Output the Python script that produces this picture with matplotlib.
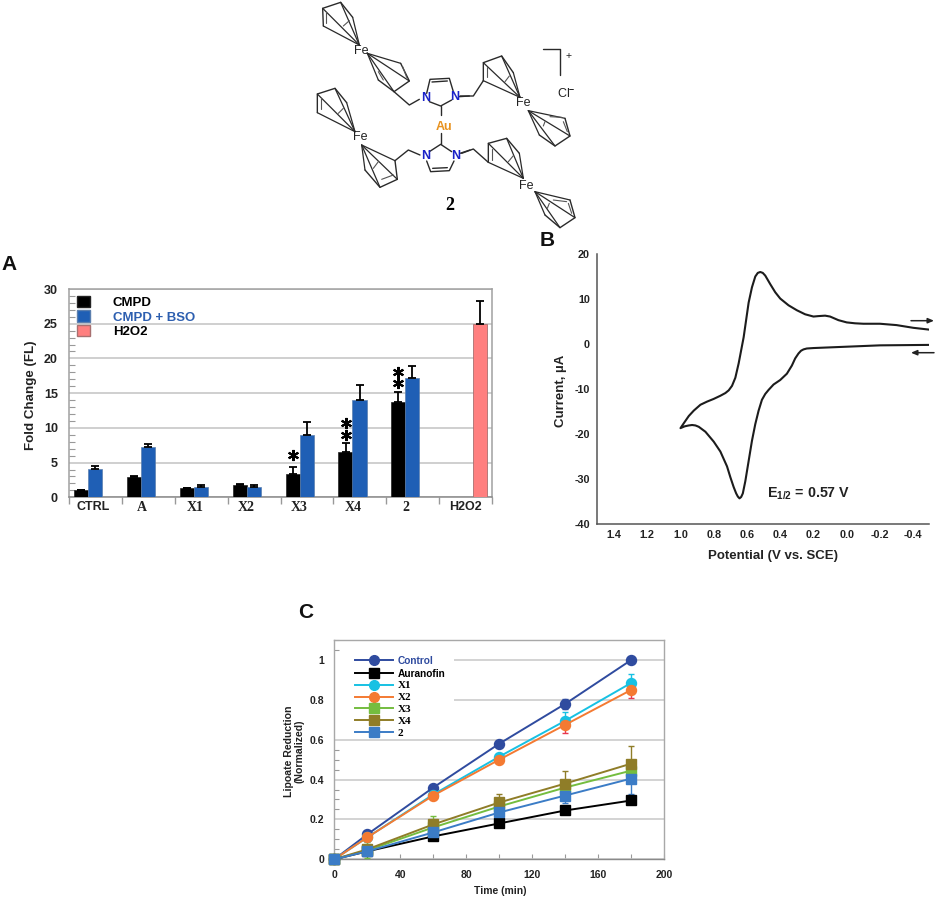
import matplotlib
matplotlib.use('Agg')
import matplotlib.pyplot as plt
from matplotlib.lines import Line2D
from matplotlib.patches import Patch, Rectangle

W, H = 941, 899
SANS = 'Liberation Sans'
SERIF = 'Liberation Serif'
plt.rcParams['font.family'] = SANS
plt.rcParams['font.weight'] = 'bold'
plt.rcParams['axes.labelweight'] = 'bold'
plt.rcParams['axes.unicode_minus'] = False
plt.rcParams['mathtext.fontset'] = 'custom'
plt.rcParams['mathtext.bf'] = 'Liberation Sans:bold'
plt.rcParams['mathtext.rm'] = 'Liberation Sans:bold'

# panel A
categorias = ['CTRL', 'A', 'X1', 'X2', 'X3', 'X4', '2', 'H2O2']
cmpd = [1.0, 2.9, 1.3, 1.7, 3.4, 6.5, 13.7]
cmpd_err = [0.1, 0.15, 0.1, 0.2, 0.9, 1.3, 1.5]
cmpd_bso = [4.1, 7.2, 1.5, 1.5, 9.0, 14.0, 17.2]
cmpd_bso_err = [0.4, 0.5, 0.2, 0.2, 1.8, 2.2, 1.7]
h2o2 = [25.0]
h2o2_err = [3.2]
estrellas_x = [4.23, 5.23, 5.23, 6.23, 6.23]
estrellas_y = [6.1, 9.0, 10.75, 16.4, 18.1]

# panel B
cv_potencial = [-0.495, -0.4, -0.3, -0.2, -0.1, -0.05, 0.0, 0.05, 0.1, 0.13, 0.17, 0.2, 0.25, 0.3, 0.35,
                0.4, 0.43, 0.46, 0.49, 0.505, 0.52, 0.535, 0.55, 0.57, 0.59, 0.62, 0.65, 0.67, 0.69, 0.71, 0.73,
                0.76, 0.8, 0.84, 0.88, 0.92, 0.95, 0.98, 1.0, 0.975, 0.95, 0.93, 0.91, 0.89, 0.85, 0.8, 0.76,
                0.72, 0.7, 0.68, 0.665, 0.655, 0.645, 0.635, 0.625, 0.61, 0.59, 0.57, 0.55, 0.53, 0.51, 0.49, 0.47, 0.44,
                0.4, 0.36, 0.33, 0.31, 0.29, 0.275, 0.26, 0.24, 0.2, 0.0, -0.2, -0.495]
cv_corriente = [3.2, 3.6, 4.2, 4.5, 4.5, 4.6, 4.8, 5.3, 6.1, 6.3, 6.2, 6.1, 6.6, 7.5, 8.6,
                10.1, 11.5, 13.3, 15.2, 15.8, 16.0, 15.8, 15.0, 12.6, 9.2, 1.5, -4.3, -7.5, -9.3, -10.3, -10.9,
                -11.5, -12.2, -12.8, -13.5, -14.8, -16.0, -17.6, -18.7, -18.3, -18.1, -18.0, -18.1, -18.4, -19.5, -21.7, -23.9,
                -27.2, -29.6, -31.8, -33.2, -33.9, -34.3, -34.0, -33.2, -30.5, -26.0, -21.5, -17.8, -14.8, -12.4, -11.1, -10.2, -9.0,
                -8.0, -6.6, -4.8, -3.2, -2.1, -1.5, -1.2, -1.0, -0.9, -0.6, -0.3, -0.2]

# panel C
tiempo = [0, 20, 60, 100, 140, 180]
series_c = ['Control', 'Auranofin', 'X1', 'X2', 'X3', 'X4', '2']
control = [0, 0.125, 0.36, 0.58, 0.78, 1.0]
auranofin = [0, 0.04, 0.115, 0.18, 0.245, 0.295]
x1 = [0, 0.11, 0.325, 0.515, 0.695, 0.885]
x2 = [0, 0.11, 0.32, 0.50, 0.675, 0.85]
x3 = [0, 0.045, 0.16, 0.265, 0.36, 0.445]
x4 = [0, 0.05, 0.175, 0.285, 0.38, 0.48]
comp2 = [0, 0.04, 0.135, 0.235, 0.32, 0.405]
err_control = [0, 0.01, 0.01, 0.01, 0.025, 0]
err_auranofin = [0, 0, 0, 0.01, 0.01, 0.02]
err_x1 = [0, 0.03, 0.01, 0.015, 0.045, 0.045]
err_x2 = [0, 0.01, 0.01, 0.01, 0.04, 0.04]
err_x3 = [0, 0.04, 0.055, 0.01, 0.02, 0.02]
err_x4 = [0, 0.01, 0.02, 0.045, 0.065, 0.09]
err_comp2 = [0, 0.01, 0.01, 0.03, 0.04, 0.075]

fig = plt.figure(figsize=(W / 100, H / 100), dpi=100, facecolor='white')


def ejes(izq, arriba, der, abajo):
    return fig.add_axes([izq / W, 1 - abajo / H, (der - izq) / W, (abajo - arriba) / H])


# ---- A ----
ax = ejes(69, 289, 492, 497.3)
pos = list(range(7))
err_kw = dict(ecolor='black', elinewidth=1.3, capsize=2.6, capthick=1.3)
ax.bar([p + 0.23 for p in pos], cmpd, 0.267, color='black', edgecolor='#222222', linewidth=0.5,
       yerr=[[0] * 7, cmpd_err], error_kw=err_kw, zorder=3)
ax.bar([p + 0.495 for p in pos], cmpd_bso, 0.267, color='#1f5fb5', edgecolor='#5b7fae', linewidth=0.5,
       yerr=[[0] * 7, cmpd_bso_err], error_kw=err_kw, zorder=3)
ax.bar([7.77], h2o2, 0.267, color='#ff7f7f', edgecolor='#a87070', linewidth=0.6,
       yerr=[[0], h2o2_err], error_kw=err_kw, zorder=3)
ax.plot(estrellas_x, estrellas_y, linestyle='none', marker=(6, 2, 0), ms=8, mew=1.5, color='black', zorder=4)
ax.set_xlim(0, 8)
ax.set_ylim(0, 30)
ax.set_yticks(range(0, 31, 5))
ax.set_yticks(range(0, 31), minor=True)
ax.set_xticks(range(9))
ax.set_xticklabels([])
ax.set_xticks([0.46, 1.373, 2.38, 3.35, 4.36, 5.38, 6.37, 7.49], minor=True)
ax.set_xticklabels(categorias, minor=True, fontsize=9)
for t in ax.get_xticklabels(minor=True):
    if t.get_text() not in ('CTRL', 'H2O2'):
        t.set_family(SERIF)
        t.set_fontsize(10)
ax.tick_params(axis='y', which='major', direction='in', length=0, labelsize=9, pad=8, labelcolor='#222222')
ax.tick_params(axis='y', which='minor', direction='in', length=4.5, width=0.8, color='#999999')
ax.tick_params(axis='x', which='major', direction='out', length=5, width=1, color='#999999')
ax.tick_params(axis='x', which='minor', length=0, pad=3, labelcolor='#222222')
ax.grid(axis='y', which='major', color='#c2c2c2', linewidth=1.1, zorder=0)
ax.set_axisbelow(True)
for s in ax.spines.values():
    s.set_color('#a0a0a0')
    s.set_linewidth(1.1)
ax.spines['bottom'].set_color('#8a8a8a')
ax.set_ylabel('Fold Change (FL)', fontsize=9.6, color='#222222')
ax.yaxis.set_label_coords((31.5 - 69) / 423, (497.3 - 395) / 208.3)
ax.yaxis.label.set_va('center')
manos = [Patch(facecolor='black', edgecolor='#222222', label='CMPD'),
         Patch(facecolor='#1f5fb5', edgecolor='#5b7fae', label='CMPD + BSO'),
         Patch(facecolor='#ff7f7f', edgecolor='#a87070', label='H2O2')]
ley = ax.legend(handles=manos, loc='upper left', bbox_to_anchor=(0.01, 0.985), frameon=False, fontsize=9.5,
                handlelength=0.95, handleheight=0.95, handletextpad=1.75, labelspacing=0.08,
                borderaxespad=0, borderpad=0.3, labelcolor=['black', '#2d5fb0', 'black'])
ley.set_zorder(5)

# ---- B ----
bx = ejes(596.7, 254, 929, 524)
bx.plot(cv_potencial, cv_corriente, color='#1c1c1c', linewidth=1.5, solid_joinstyle='round')
bx.set_xlim(1.504, -0.495)
bx.set_ylim(-40, 20)
bx.set_yticks(range(-40, 21, 10))
bx.set_xticks([1.4, 1.2, 1.0, 0.8, 0.6, 0.4, 0.2, 0.0, -0.2, -0.4])
bx.set_xticklabels(['1.4', '1.2', '1.0', '0.8', '0.6', '0.4', '0.2', '0.0', '-0.2', '-0.4'])
bx.tick_params(length=0, labelsize=7.8, labelcolor='#222222')
bx.tick_params(axis='y', pad=5)
bx.tick_params(axis='x', pad=4)
bx.spines['top'].set_visible(False)
bx.spines['right'].set_visible(False)
bx.spines['left'].set_color('#555555')
bx.spines['bottom'].set_color('#555555')
bx.spines['left'].set_linewidth(1.1)
bx.spines['bottom'].set_linewidth(1.1)
bx.set_xlabel('Potential (V vs. SCE)', fontsize=9.5, color='#222222')
bx.xaxis.set_label_coords((772.7 - 596.7) / 332.3, -(555.7 - 524) / 270)
bx.xaxis.label.set_va('center')
bx.set_ylabel('Current, µA', fontsize=9.5, color='#222222')
bx.yaxis.set_label_coords((560.7 - 596.7) / 332.3, (524 - 390.7) / 270)
bx.yaxis.label.set_va('center')
bx.text(0.48, -33.2, r'$\mathbf{E_{1/2}}$ = 0.57 V', fontsize=10.3, color='#222222', ha='left', va='center')

# ---- C ----
cx = ejes(334.3, 640, 664.3, 859.3)
estilos = [
    (control, err_control, err_control, '#2f4b9f', 'o', '#2f4b9f'),
    (auranofin, err_auranofin, err_auranofin, 'black', 's', 'black'),
    (x1, [0] * 6, err_x1, '#17c1e3', 'o', '#17c1e3'),
    (x2, err_x2, [0] * 6, '#f47a32', 'o', '#e8374f'),
    (x3, err_x3, err_x3, '#74bd3f', 's', '#74bd3f'),
    (x4, [0] * 6, err_x4, '#8f7d28', 's', '#8f7d28'),
    (comp2, err_comp2, err_comp2, '#3b7cc6', 's', '#3b7cc6'),
]
manos_c = []
for nombre, (vals, lo, hi, col, mk, ecol) in zip(series_c, estilos):
    cx.errorbar(tiempo, vals, yerr=[lo, hi], color=col, marker=mk, ms=7.2, linewidth=1.4,
                ecolor=ecol, elinewidth=1, capsize=2.5, capthick=1, clip_on=False, zorder=3)
    manos_c.append(Line2D([], [], color=col, marker=mk, ms=7, linewidth=1.4, label=nombre))
cx.add_patch(Rectangle((0, 0.62), 72.7, 0.41, facecolor='white', edgecolor='none', zorder=1))
cx.set_xlim(0, 200)
cx.set_ylim(0, 1.1)
cx.set_xticks(range(0, 201, 40))
cx.set_xticks(range(0, 201, 20), minor=True)
cx.set_yticks([0, 0.2, 0.4, 0.6, 0.8, 1])
cx.set_yticklabels(['0', '0.2', '0.4', '0.6', '0.8', '1'])
cx.set_yticks([i * 0.05 for i in range(23)], minor=True)
cx.tick_params(which='major', axis='y', length=0, labelsize=7.5, pad=7, labelcolor='#222222')
cx.tick_params(which='major', axis='x', direction='in', length=3.5, width=0.8, color='#999999', labelsize=7.5,
               pad=8, labelcolor='#222222')
cx.tick_params(which='minor', direction='in', length=3.5, width=0.8, color='#999999')
cx.grid(axis='y', which='major', color='#c8c8c8', linewidth=1.1, zorder=0)
cx.set_axisbelow(True)
for s in cx.spines.values():
    s.set_color('#a8a8a8')
    s.set_linewidth(1.0)
cx.spines['bottom'].set_color('#8a8a8a')
cx.set_xlabel('Time (min)', fontsize=7.5, color='#222222')
cx.xaxis.set_label_coords((500 - 334.3) / 330, -(890.7 - 859.3) / 219.3)
cx.xaxis.label.set_va('center')
cx.set_ylabel('Lipoate Reduction\n(Normalized)', fontsize=7.6, color='#222222', linespacing=1.05)
cx.yaxis.set_label_coords((294 - 334.3) / 330, (859.3 - 751.5) / 219.3)
cx.yaxis.label.set_va('center')
ley_c = cx.legend(handles=manos_c, loc='upper left', bbox_to_anchor=((355 - 334.3) / 330, 0.928), fontsize=7.3,
                  frameon=False, handlelength=3.75, handletextpad=0.45, labelspacing=0.27,
                  borderaxespad=0, borderpad=0)
ley_c.set_zorder(2)
colores_txt = ['#2f4b9f', 'black', 'black', 'black', 'black', 'black', 'black']
for t, c in zip(ley_c.get_texts(), colores_txt):
    t.set_color(c)
    if t.get_text() not in ('Control', 'Auranofin'):
        t.set_family(SERIF)
        t.set_fontsize(8)

# ---- capa en pixeles: letras, flechas y molecula ----
ov = fig.add_axes([0, 0, 1, 1], zorder=10)
ov.set_xlim(0, W)
ov.set_ylim(H, 0)
ov.axis('off')
ov.patch.set_alpha(0)

ov.text(9, 264, 'A', fontsize=15, ha='center', va='center', color='#111111')
ov.text(547, 241, 'B', fontsize=15, ha='center', va='center', color='#111111')
ov.text(306, 612, 'C', fontsize=15, ha='center', va='center', color='#111111')

ov.annotate('', xy=(934, 320.7), xytext=(911, 320.7),
            arrowprops=dict(arrowstyle='-|>,head_width=0.15,head_length=0.35', color='#222222', lw=1.1,
                            shrinkA=0, shrinkB=0))
ov.annotate('', xy=(911, 352.7), xytext=(934, 352.7),
            arrowprops=dict(arrowstyle='-|>,head_width=0.15,head_length=0.35', color='#222222', lw=1.1,
                            shrinkA=0, shrinkB=0))


def linea(origen, pts, lw=1.0, color='#2a2a2a'):
    xs = [origen[0] + p[0] / 3 for p in pts]
    ys = [origen[1] + p[1] / 3 for p in pts]
    ov.plot(xs, ys, color=color, linewidth=lw, solid_capstyle='round')


def anillo(origen, vert, apice, dobles):
    linea(origen, vert)
    for v in vert:
        linea(origen, [v, apice], lw=0.9)
    for d in dobles:
        linea(origen, d, lw=0.8, color='#555555')


def etiqueta(origen, x, y, txt, color='#222222', size=9, **kw):
    ov.text(origen[0] + x / 3, origen[1] + y / 3, txt, color=color, fontsize=size, ha='center', va='center', **kw)


# arriba izquierda
o = (310, 0)
anillo(o, [(40, 78), (38, 25), (92, 7), (128, 52)], (148, 135), [[(47, 35), (47, 70)], [(100, 78), (118, 62)]])
anillo(o, [(272, 190), (298, 243), (252, 275), (205, 240)], (172, 160), [[(278, 200), (290, 232)], [(205, 215), (220, 240)]])
linea(o, [(252, 275), (298, 315), (328, 298)])
linea(o, [(350, 280), (360, 238), (418, 235), (430, 275)])
linea(o, [(366, 246), (412, 243)])
linea(o, [(358, 305), (392, 318), (425, 300)])
linea(o, [(392, 318), (392, 345)])
linea(o, [(448, 290), (478, 288)])
etiqueta(o, 155, 152, 'Fe', weight='normal')
etiqueta(o, 347, 295, 'N', color='#1a22c8')
etiqueta(o, 435, 290, 'N', color='#1a22c8')

# arriba derecha
o = (460, 40)
linea(o, [(0, 168), (40, 168), (70, 122)])
anillo(o, [(70, 122), (70, 68), (125, 48), (160, 98)], (180, 172), [[(80, 80), (80, 112)], [(135, 125), (148, 108)]])
anillo(o, [(315, 235), (330, 288), (285, 318), (238, 285)], (205, 212), [[(270, 230), (305, 232)], [(310, 245), (322, 275)], [(250, 258), (255, 245)]])
etiqueta(o, 190, 190, 'Fe', weight='normal')
linea(o, [(250, 28), (300, 28), (300, 105)])
etiqueta(o, 327, 47, '+', weight='normal', size=7.5)
etiqueta(o, 320, 162, 'Cl$^{-}$', weight='normal', size=9)

# abajo izquierda
o = (310, 80)
anillo(o, [(22, 98), (22, 42), (75, 25), (110, 68)], (135, 155), [[(32, 55), (32, 88)], [(85, 100), (100, 85)]])
anillo(o, [(255, 242), (262, 298), (210, 322), (165, 270)], (155, 195), [[(215, 298), (250, 285)], [(190, 265), (205, 245)]])
linea(o, [(255, 242), (295, 210), (330, 225)])
linea(o, [(358, 215), (392, 193), (425, 215)])
linea(o, [(350, 243), (362, 275), (418, 272), (432, 243)])
linea(o, [(368, 265), (412, 263)])
linea(o, [(392, 158), (392, 193)])
linea(o, [(450, 220), (480, 210)])
etiqueta(o, 150, 172, 'Fe', weight='normal')
etiqueta(o, 347, 228, 'N', color='#1a22c8')
etiqueta(o, 437, 228, 'N', color='#1a22c8')
etiqueta(o, 403, 140, 'Au', color='#e8921e')

# abajo derecha
o = (460, 125)
linea(o, [(5, 85), (40, 72), (85, 112)])
anillo(o, [(85, 112), (85, 55), (140, 40), (178, 85)], (190, 160), [[(95, 72), (95, 105)], [(145, 110), (160, 92)]])
anillo(o, [(330, 225), (345, 278), (300, 308), (255, 270)], (225, 200), [[(280, 225), (320, 230)], [(325, 235), (335, 265)], [(262, 250), (268, 235)]])
etiqueta(o, 200, 183, 'Fe', weight='normal')
ov.text(449.3, 205, '2', family=SERIF, fontsize=13, ha='center', va='center', color='black')

fig.savefig('out.png', dpi=100)
